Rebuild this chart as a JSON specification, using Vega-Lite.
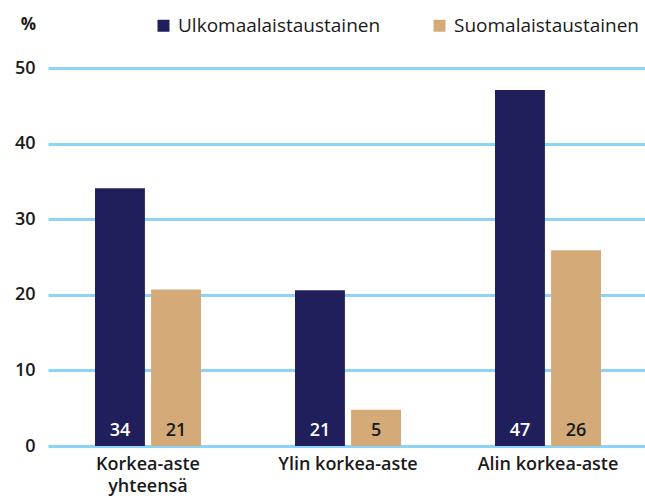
{
  "$schema": "https://vega.github.io/schema/vega-lite/v6.json",
  "width": 600,
  "height": 378,
  "autosize": {"type": "none"},
  "padding": {"left": 48, "top": 68, "right": 0, "bottom": 52},
  "config": {
    "view": {"stroke": null},
    "font": "Open Sans"
  },
  "data": {
    "values": [
      {"koulutus": "Korkea-aste yhteensä", "tausta": "Ulkomaalaistaustainen", "arvo": 34.1},
      {"koulutus": "Korkea-aste yhteensä", "tausta": "Suomalaistaustainen", "arvo": 20.7},
      {"koulutus": "Ylin korkea-aste", "tausta": "Ulkomaalaistaustainen", "arvo": 20.6},
      {"koulutus": "Ylin korkea-aste", "tausta": "Suomalaistaustainen", "arvo": 4.8},
      {"koulutus": "Alin korkea-aste", "tausta": "Ulkomaalaistaustainen", "arvo": 47.1},
      {"koulutus": "Alin korkea-aste", "tausta": "Suomalaistaustainen", "arvo": 25.9}
    ]
  },
  "encoding": {
    "x": {
      "field": "koulutus",
      "type": "nominal",
      "sort": ["Korkea-aste yhteensä", "Ylin korkea-aste", "Alin korkea-aste"],
      "scale": {"paddingInner": 0.47, "paddingOuter": 0.235},
      "axis": {
        "title": null,
        "domain": false,
        "ticks": false,
        "labelAngle": 0,
        "labelFont": "Open Sans",
        "labelFontSize": 18,
        "labelFontWeight": 600,
        "labelColor": "#1a1a1a",
        "labelPadding": 9,
        "labelLineHeight": 22,
        "labelExpr": "datum.label == 'Korkea-aste yhteensä' ? ['Korkea-aste', 'yhteensä'] : datum.label"
      }
    },
    "xOffset": {
      "field": "tausta",
      "type": "nominal",
      "sort": ["Ulkomaalaistaustainen", "Suomalaistaustainen"],
      "scale": {"paddingInner": 0.11, "paddingOuter": 0}
    }
  },
  "layer": [
    {
      "mark": {"type": "bar"},
      "encoding": {
        "y": {
          "field": "arvo",
          "type": "quantitative",
          "scale": {"domain": [0, 50]},
          "axis": {
            "values": [0, 10, 20, 30, 40, 50],
            "domain": false,
            "ticks": false,
            "grid": true,
            "gridColor": "#8dd3f7",
            "gridWidth": 3,
            "labelFont": "Open Sans",
            "labelFontSize": 18,
            "labelFontWeight": 600,
            "labelColor": "#1a1a1a",
            "labelPadding": 13,
            "title": "%",
            "titleAngle": 0,
            "titleAlign": "center",
            "titleBaseline": "alphabetic",
            "titleX": -20,
            "titleY": -39,
            "titleFont": "Open Sans",
            "titleFontSize": 17,
            "titleFontWeight": 700,
            "titleColor": "#1a1a1a"
          }
        },
        "color": {
          "field": "tausta",
          "type": "nominal",
          "scale": {
            "domain": ["Ulkomaalaistaustainen", "Suomalaistaustainen"],
            "range": ["#201f5b", "#d4aa78"]
          },
          "legend": {
            "title": null,
            "orient": "none",
            "direction": "horizontal",
            "legendX": 106,
            "legendY": -52,
            "symbolType": "square",
            "symbolSize": 144,
            "symbolStrokeWidth": 0,
            "symbolOpacity": 1,
            "labelFont": "Open Sans",
            "labelFontSize": 19,
            "labelColor": "#1a1a1a",
            "labelLimit": 400,
            "labelOffset": 5,
            "columnPadding": 49
          }
        }
      }
    },
    {
      "mark": {"type": "text", "baseline": "alphabetic", "dy": -10, "fontSize": 18, "fontWeight": 600, "font": "Open Sans"},
      "encoding": {
        "y": {"datum": 0, "type": "quantitative"},
        "text": {"field": "arvo", "type": "quantitative", "format": ".0f"},
        "color": {
          "field": "tausta",
          "type": "nominal",
          "scale": {
            "domain": ["Ulkomaalaistaustainen", "Suomalaistaustainen"],
            "range": ["#ffffff", "#1a1a1a"]
          },
          "legend": null
        }
      }
    }
  ],
  "resolve": {"scale": {"color": "independent"}}
}
